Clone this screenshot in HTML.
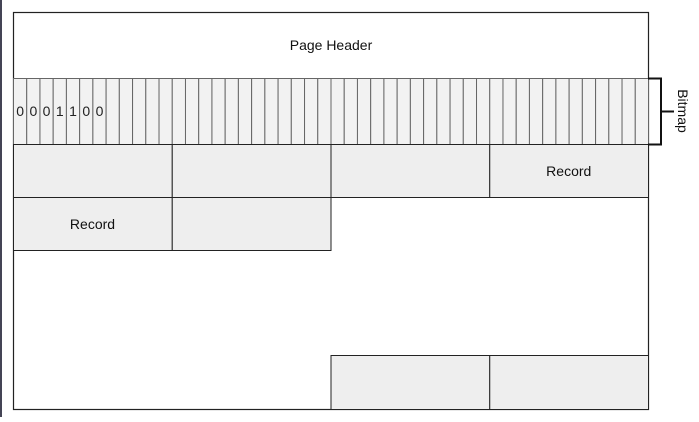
<!DOCTYPE html>
<html><head><meta charset="utf-8"><style>
body{margin:0;background:#fff;width:699px;height:417px;overflow:hidden;font-family:"Liberation Sans",sans-serif}
</style></head><body>
<svg width="699" height="417" viewBox="0 0 699 417" xmlns="http://www.w3.org/2000/svg">
<line x1="1" y1="0" x2="1" y2="417" stroke="#445" stroke-width="2"/>
<rect x="13.5" y="12.5" width="635" height="397" fill="#fff" stroke="#222" stroke-width="1.2"/>
<text x="331" y="50" font-size="14" text-anchor="middle" fill="#111">Page Header</text>
<g id="bitmap"></g>
<g id="records"></g>
<path d="M648 78.5 H661 V144.5 H648 M661 111.5 H674" fill="none" stroke="#111" stroke-width="2"/>
<text x="0" y="0" font-size="14" fill="#111" text-anchor="middle" transform="translate(678 111) rotate(90)">Bitmap</text>
</svg>
<script>
const bits=['0','0','0','1','1','0','0'];
const cellCount=48;
const ns='http://www.w3.org/2000/svg';
const bm=document.getElementById('bitmap');
const w=635/cellCount;
for(let i=0;i<cellCount;i++){
 const r=document.createElementNS(ns,'rect');
 r.setAttribute('x',13.5+i*w);r.setAttribute('y',78.5);r.setAttribute('width',w);r.setAttribute('height',66);
 r.setAttribute('fill','#f2f2f2');r.setAttribute('stroke','#666');r.setAttribute('stroke-width','1');
 
 
 bm.appendChild(r);
 if(i<bits.length){
  const t=document.createElementNS(ns,'text');
  t.setAttribute('x',13.5+i*w+w/2);t.setAttribute('y',116);t.setAttribute('font-size','14');t.setAttribute('text-anchor','middle');t.setAttribute('fill','#222');
  t.textContent=bits[i];
  
  
  bm.appendChild(t);
 }
}
const cells=[[0,144,''],[1,144,''],[2,144,''],[3,144,'Record'],[0,197,'Record'],[1,197,''],[2,355,''],[3,355,'']];
const rg=document.getElementById('records');
cells.forEach(c=>{
 const x=13.5+c[0]*158.75;
 const r=document.createElementNS(ns,'rect');
 r.setAttribute('x',x);r.setAttribute('y',c[1]+0.5);r.setAttribute('width',158.75);r.setAttribute('height',c[1]==355?54:53);
 r.setAttribute('fill','#eeeeee');r.setAttribute('stroke','#222');r.setAttribute('stroke-width','1');
 
 
 rg.appendChild(r);
 if(c[2]){
  const t=document.createElementNS(ns,'text');
  t.setAttribute('x',x+79);t.setAttribute('y',c[1]+32);t.setAttribute('font-size','14');t.setAttribute('text-anchor','middle');t.setAttribute('fill','#111');
  t.textContent=c[2];
  
  
  rg.appendChild(t);
 }
});
</script>
</body></html>
